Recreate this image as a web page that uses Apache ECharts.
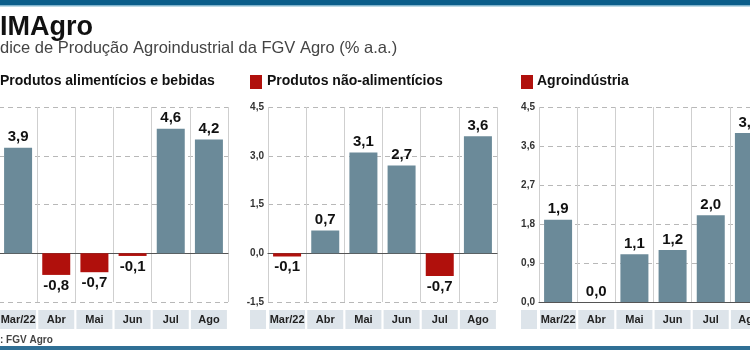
<!DOCTYPE html>
<html>
<head>
<meta charset="utf-8">
<script src="https://cdn.jsdelivr.net/npm/echarts@6/dist/echarts.min.js"></script>
<style>
  html, body { margin: 0; padding: 0; background: #fff; }
  #main { width: 750px; height: 350px; }
</style>
</head>
<body>
<div id="main"></div>
<script>
var chartDom = document.getElementById('main');
var myChart = echarts.init(chartDom);

// meses
var months = ['Mar/22', 'Abr', 'Mai', 'Jun', 'Jul', 'Ago'];

// % a.a.
var alimenticios = [3.9, -0.8, -0.7, -0.1, 4.6, 4.2];
var naoAlimenticios = [-0.1, 0.7, 3.1, 2.7, -0.7, 3.6];
var agroindustria = [1.9, 0.0, 1.1, 1.2, 2.0, 3.9];

var panelTitles = ['Produtos alimentícios e bebidas', 'Produtos não-alimentícios', 'Agroindústria'];

// y axis ranges per panel
var yMin = [-1.8, -1.5, 0];
var yMax = [5.4, 4.5, 4.5];
var yStep = [1.8, 1.5, 0.9];

var BLUE = '#6b8a99';
var RED = '#b0100c';
var BAND = '#dde4ea';

function fmt(v) {
    return v.toFixed(1).replace('.', ',');
}

var grids = [
    { left: -1, top: 107, width: 229, height: 195, outerBoundsMode: 'none', containLabel: false },
    { left: 268, top: 107, width: 229, height: 195, outerBoundsMode: 'none', containLabel: false },
    { left: 539, top: 107, width: 229, height: 195, outerBoundsMode: 'none', containLabel: false }
];

var xAxes = []
var yAxes = []
var series = []
var allData = [alimenticios, naoAlimenticios, agroindustria]

allData.forEach((data, i) => {
    xAxes.push({
        type: 'category', gridIndex: i, data: months,
        axisTick: { show: false },
        axisLine: { onZero: true, lineStyle: { color: '#555', width: 1.2 } },
        splitLine: { show: true, lineStyle: { color: '#cfcfcf', width: 1 } },
        axisLabel: {
            interval: 0, margin: 8,
            color: '#222', fontFamily: 'Liberation Sans', fontWeight: 'bold', fontSize: 11,
            backgroundColor: BAND, width: 36, height: 19, lineHeight: 19, align: 'center'
        }
    });
    yAxes.push({
        type: 'value', gridIndex: i, min: yMin[i], max: yMax[i], interval: yStep[i],
        axisLine: { show: false }, axisTick: { show: false },
        splitLine: { show: true, lineStyle: { color: '#b8b8b8', type: [5, 4], width: 1 } },
        axisLabel: {
            color: '#333', fontFamily: 'Liberation Sans', fontWeight: 'bold', fontSize: 10,
            margin: 4, formatter: v => fmt(v)
        }
    });
    series.push({
        type: 'bar', xAxisIndex: i, yAxisIndex: i, barWidth: 28,
        data: data.map(v => ({ value: v, itemStyle: { color: v < 0 ? RED : BLUE },
            label: { position: v < 0 ? 'bottom' : 'top' } })),
        label: {
            show: true, distance: 3, formatter: p => fmt(p.value),
            color: '#111', fontFamily: 'Liberation Sans', fontWeight: 'bold', fontSize: 15
        }
    });
})

var graphics = [
    { type: 'rect', shape: { x: 0, y: 0, width: 750, height: 5 }, style: { fill: '#0b5e8a' } },
    { type: 'rect', shape: { x: 0, y: 5, width: 750, height: 1.5 }, style: { fill: '#7fb3cc' } },
    { type: 'text', left: 0, top: 14, style: { text: 'IMAgro', fill: '#111', font: 'bold 27px "Liberation Sans"' } },
    { type: 'text', left: 0, top: 40, style: { text: 'dice de Produção Agroindustrial da FGV Agro (% a.a.)', fill: '#444', font: '16.5px "Liberation Sans"' } },
    { type: 'text', left: 0, top: 74, style: { text: panelTitles[0], fill: '#111', font: 'bold 14px "Liberation Sans"' } },
    { type: 'rect', shape: { x: 250, y: 75, width: 12, height: 14 }, style: { fill: RED } },
    { type: 'text', left: 267, top: 74, style: { text: panelTitles[1], fill: '#111', font: 'bold 14px "Liberation Sans"' } },
    { type: 'rect', shape: { x: 521, y: 75, width: 12, height: 14 }, style: { fill: RED } },
    { type: 'text', left: 537, top: 74, style: { text: panelTitles[2], fill: '#111', font: 'bold 14px "Liberation Sans"' } },
    // empty cells of the month band under the y labels
    { type: 'rect', shape: { x: 250, y: 310, width: 16, height: 19 }, style: { fill: BAND } },
    { type: 'rect', shape: { x: 521, y: 310, width: 16, height: 19 }, style: { fill: BAND } },
    { type: 'text', left: 0, top: 335, style: { text: ': FGV Agro', fill: '#444', font: 'bold 10px "Liberation Sans"' } },
    { type: 'rect', shape: { x: 0, y: 346, width: 750, height: 4 }, style: { fill: '#2f6f95' } }
];

var option = {
    animation: false,
    grid: grids,
    xAxis: xAxes,
    yAxis: yAxes,
    series: series,
    graphic: graphics
};
option && myChart.setOption(option);
</script>
</body>
</html>
